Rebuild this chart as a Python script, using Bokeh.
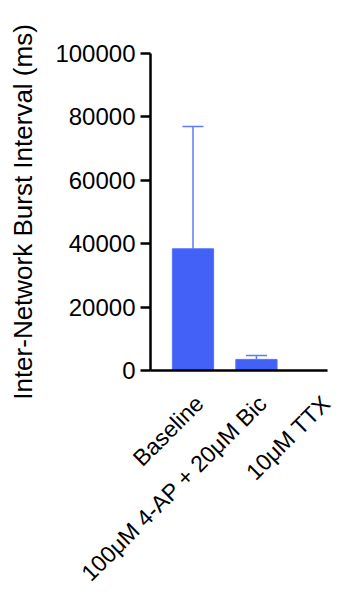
import math
from bokeh.plotting import figure
from bokeh.models import (Range1d, FixedTicker, Whisker, ColumnDataSource,
                          BasicTickFormatter, TeeHead, LinearAxis)
from bokeh.embed import file_html
from bokeh.resources import INLINE

categories = ["Baseline", "100μM 4-AP + 20μM Bic", "10μM TTX"]
means = [38400, 3500, 0]
upper_errors = [77000, 4700, 0]
y_ticks = [0, 20000, 40000, 60000, 80000, 100000]

positions = list(range(len(categories)))

FONT = "Liberation Sans"
BAR = "#4361F6"
ERR = "#5C7BFA"

X0, X1 = -0.67, 2.12
LAB_SHIFT = 0.10

p = figure(width=340, height=605, output_backend="svg", toolbar_location=None,
           x_range=Range1d(X0, X1), y_range=Range1d(0, 100000),
           min_border_left=150, min_border_right=13, min_border_top=53,
           min_border_bottom=235)
p.outline_line_color = None
p.grid.visible = False
p.background_fill_color = "white"
p.border_fill_color = "white"

src = ColumnDataSource(dict(x=positions, top=means))
p.vbar(x="x", top="top", bottom=0, width=0.65, source=src,
       fill_color=BAR, line_color="#5573F8", line_width=1)

wx, wl, wu = [], [], []
for x, m, u in zip(positions, means, upper_errors):
    if u > m:
        wx.append(x); wl.append(m); wu.append(u)
wsrc = ColumnDataSource(dict(base=wx, lower=wl, upper=wu))
w = Whisker(base="base", lower="lower", upper="upper", source=wsrc,
            line_color=ERR, line_width=1.5,
            upper_head=TeeHead(size=21, line_color=ERR, line_width=1.5),
            lower_head=None)
p.add_layout(w)

# y axis
ya = p.yaxis[0]
ya.ticker = FixedTicker(ticks=y_ticks)
ya.formatter = BasicTickFormatter(use_scientific=False)
ya.axis_line_width = 2.5
ya.axis_line_color = "black"
ya.major_tick_line_width = 2.5
ya.major_tick_line_color = "black"
ya.major_tick_out = 10
ya.major_tick_in = 0
ya.minor_tick_line_color = None
ya.major_label_text_font = FONT
ya.major_label_text_font_size = "24px"
ya.major_label_text_color = "black"
ya.major_label_standoff = 5
ya.axis_label = "Inter-Network Burst Interval (ms)"
ya.axis_label_text_font = FONT
ya.axis_label_text_font_size = "26px"
ya.axis_label_text_font_style = "normal"
ya.axis_label_text_color = "black"
ya.axis_label_standoff = 14

# x axis (line only)
xa = p.xaxis[0]
xa.ticker = FixedTicker(ticks=[])
xa.major_label_standoff = 0
xa.major_tick_out = 0
xa.major_tick_in = 0
xa.axis_line_width = 2.5
xa.axis_line_color = "black"
xa.major_tick_line_color = None
xa.minor_tick_line_color = None

# category labels axis (slightly offset, no line)
p.extra_x_ranges = {"lab": Range1d(X0 - LAB_SHIFT, X1 - LAB_SHIFT)}
la = LinearAxis(x_range_name="lab", ticker=FixedTicker(ticks=positions))
la.major_label_overrides = {i: c for i, c in zip(positions, categories)}
la.axis_line_color = None
la.major_tick_line_color = None
la.minor_tick_line_color = None
la.major_tick_out = 0
la.major_tick_in = 0
la.major_label_orientation = math.pi / 4
la.major_label_text_font = FONT
la.major_label_text_font_size = "23px"
la.major_label_text_color = "black"
la.major_label_standoff = 29
p.add_layout(la, "below")

open("out.html", "w").write(file_html(p, INLINE))
